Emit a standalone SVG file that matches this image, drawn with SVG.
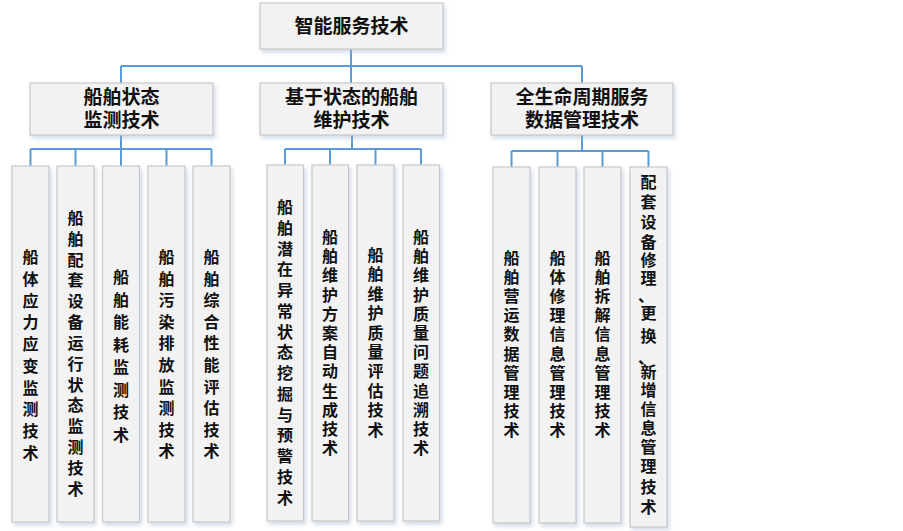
<svg xmlns="http://www.w3.org/2000/svg" width="903" height="531" viewBox="0 0 903 531">
<defs>
<filter id="sh" x="-20%" y="-20%" width="140%" height="140%">
<feDropShadow dx="2" dy="3" stdDeviation="2" flood-color="#9fb4cc" flood-opacity="0.45"/>
</filter>
<style>
.box{fill:#f2f2f2;stroke:#c8c8c8;stroke-width:1.2;filter:url(#sh)}
.hd{font-family:"Liberation Sans","Noto Sans CJK SC",sans-serif;font-size:19px;font-weight:bold;fill:#111;text-anchor:middle}
.lf{font-family:"Liberation Sans","Noto Sans CJK SC",sans-serif;font-size:16px;font-weight:bold;fill:#111;text-anchor:middle}
.cn{fill:none;stroke:#5b9bd5;stroke-width:2}
</style>
</defs>
<rect width="903" height="531" fill="#ffffff"/>
<g id="connectors" class="cn">
<path d="M351 49V66M121 66H582M121 66V83M351 66V83M582 66V83"/>
<path d="M121 135V149M30.5 149H211.5M30.5 149V166M75.5 149V166M121 149V166M166.5 149V166M211.5 149V166"/>
<path d="M352 135V149M285 149H421M285 149V165M330 149V165M375.5 149V165M421 149V165"/>
<path d="M582 135V151M511.5 151H648.5M511.5 151V167M557.5 151V167M602.5 151V167M648.5 151V167"/>
</g>
<g id="root"><rect class="box" x="260" y="3" width="183" height="46"/><text class="hd" x="351.5" y="33">智能服务技术</text></g>
<g id="n1"><rect class="box" x="30" y="83" width="183" height="52"/><text class="hd" x="121.5" y="104">船舶状态</text><text class="hd" x="121.5" y="127">监测技术</text></g>
<g id="n2"><rect class="box" x="260" y="83" width="183" height="52"/><text class="hd" x="351.5" y="104">基于状态的船舶</text><text class="hd" x="351.5" y="127">维护技术</text></g>
<g id="n3"><rect class="box" x="491" y="83" width="182" height="52"/><text class="hd" x="582" y="104">全生命周期服务</text><text class="hd" x="582" y="127">数据管理技术</text></g>

<g id="l1"><rect class="box" x="12" y="166" width="37" height="356"/><text class="lf" x="30.5" y="263"><tspan x="30.5" dy="0">船</tspan><tspan x="30.5" dy="21.75">体</tspan><tspan x="30.5" dy="21.75">应</tspan><tspan x="30.5" dy="21.75">力</tspan><tspan x="30.5" dy="21.75">应</tspan><tspan x="30.5" dy="21.75">变</tspan><tspan x="30.5" dy="21.75">监</tspan><tspan x="30.5" dy="21.75">测</tspan><tspan x="30.5" dy="21.75">技</tspan><tspan x="30.5" dy="21.75">术</tspan></text></g>
<g id="l2"><rect class="box" x="57" y="166" width="37" height="356"/><text class="lf" x="75.5" y="224"><tspan x="75.5" dy="0">船</tspan><tspan x="75.5" dy="20.83">舶</tspan><tspan x="75.5" dy="20.83">配</tspan><tspan x="75.5" dy="20.83">套</tspan><tspan x="75.5" dy="20.83">设</tspan><tspan x="75.5" dy="20.83">备</tspan><tspan x="75.5" dy="20.83">运</tspan><tspan x="75.5" dy="20.83">行</tspan><tspan x="75.5" dy="20.83">状</tspan><tspan x="75.5" dy="20.83">态</tspan><tspan x="75.5" dy="20.83">监</tspan><tspan x="75.5" dy="20.83">测</tspan><tspan x="75.5" dy="20.83">技</tspan><tspan x="75.5" dy="20.83">术</tspan></text></g>
<g id="l3"><rect class="box" x="102.5" y="166" width="37" height="356"/><text class="lf" x="121" y="283"><tspan x="121" dy="0">船</tspan><tspan x="121" dy="22.5">舶</tspan><tspan x="121" dy="22.5">能</tspan><tspan x="121" dy="22.5">耗</tspan><tspan x="121" dy="22.5">监</tspan><tspan x="121" dy="22.5">测</tspan><tspan x="121" dy="22.5">技</tspan><tspan x="121" dy="22.5">术</tspan></text></g>
<g id="l4"><rect class="box" x="148" y="166" width="37" height="356"/><text class="lf" x="166.5" y="263"><tspan x="166.5" dy="0">船</tspan><tspan x="166.5" dy="21.6">舶</tspan><tspan x="166.5" dy="21.6">污</tspan><tspan x="166.5" dy="21.6">染</tspan><tspan x="166.5" dy="21.6">排</tspan><tspan x="166.5" dy="21.6">放</tspan><tspan x="166.5" dy="21.6">监</tspan><tspan x="166.5" dy="21.6">测</tspan><tspan x="166.5" dy="21.6">技</tspan><tspan x="166.5" dy="21.6">术</tspan></text></g>
<g id="l5"><rect class="box" x="193" y="166" width="37" height="356"/><text class="lf" x="211.5" y="263"><tspan x="211.5" dy="0">船</tspan><tspan x="211.5" dy="21.6">舶</tspan><tspan x="211.5" dy="21.6">综</tspan><tspan x="211.5" dy="21.6">合</tspan><tspan x="211.5" dy="21.6">性</tspan><tspan x="211.5" dy="21.6">能</tspan><tspan x="211.5" dy="21.6">评</tspan><tspan x="211.5" dy="21.6">估</tspan><tspan x="211.5" dy="21.6">技</tspan><tspan x="211.5" dy="21.6">术</tspan></text></g>

<g id="m1"><rect class="box" x="267" y="165" width="36.5" height="356"/><text class="lf" x="285" y="213"><tspan x="285" dy="0">船</tspan><tspan x="285" dy="20.77">舶</tspan><tspan x="285" dy="20.77">潜</tspan><tspan x="285" dy="20.77">在</tspan><tspan x="285" dy="20.77">异</tspan><tspan x="285" dy="20.77">常</tspan><tspan x="285" dy="20.77">状</tspan><tspan x="285" dy="20.77">态</tspan><tspan x="285" dy="20.77">挖</tspan><tspan x="285" dy="20.77">掘</tspan><tspan x="285" dy="20.77">与</tspan><tspan x="285" dy="20.77">预</tspan><tspan x="285" dy="20.77">警</tspan><tspan x="285" dy="20.77">技</tspan><tspan x="285" dy="20.77">术</tspan></text></g>
<g id="m2"><rect class="box" x="312" y="165" width="36.5" height="356"/><text class="lf" x="330" y="243"><tspan x="330" dy="0">船</tspan><tspan x="330" dy="19.2">舶</tspan><tspan x="330" dy="19.2">维</tspan><tspan x="330" dy="19.2">护</tspan><tspan x="330" dy="19.2">方</tspan><tspan x="330" dy="19.2">案</tspan><tspan x="330" dy="19.2">自</tspan><tspan x="330" dy="19.2">动</tspan><tspan x="330" dy="19.2">生</tspan><tspan x="330" dy="19.2">成</tspan><tspan x="330" dy="19.2">技</tspan><tspan x="330" dy="19.2">术</tspan></text></g>
<g id="m3"><rect class="box" x="357" y="165" width="37" height="356"/><text class="lf" x="375.5" y="261"><tspan x="375.5" dy="0">船</tspan><tspan x="375.5" dy="19.4">舶</tspan><tspan x="375.5" dy="19.4">维</tspan><tspan x="375.5" dy="19.4">护</tspan><tspan x="375.5" dy="19.4">质</tspan><tspan x="375.5" dy="19.4">量</tspan><tspan x="375.5" dy="19.4">评</tspan><tspan x="375.5" dy="19.4">估</tspan><tspan x="375.5" dy="19.4">技</tspan><tspan x="375.5" dy="19.4">术</tspan></text></g>
<g id="m4"><rect class="box" x="403" y="165" width="36.5" height="356"/><text class="lf" x="421" y="243"><tspan x="421" dy="0">船</tspan><tspan x="421" dy="19.2">舶</tspan><tspan x="421" dy="19.2">维</tspan><tspan x="421" dy="19.2">护</tspan><tspan x="421" dy="19.2">质</tspan><tspan x="421" dy="19.2">量</tspan><tspan x="421" dy="19.2">问</tspan><tspan x="421" dy="19.2">题</tspan><tspan x="421" dy="19.2">追</tspan><tspan x="421" dy="19.2">溯</tspan><tspan x="421" dy="19.2">技</tspan><tspan x="421" dy="19.2">术</tspan></text></g>

<g id="r1"><rect class="box" x="493" y="167" width="37" height="356"/><text class="lf" x="511.5" y="264"><tspan x="511.5" dy="0">船</tspan><tspan x="511.5" dy="19.1">舶</tspan><tspan x="511.5" dy="19.1">营</tspan><tspan x="511.5" dy="19.1">运</tspan><tspan x="511.5" dy="19.1">数</tspan><tspan x="511.5" dy="19.1">据</tspan><tspan x="511.5" dy="19.1">管</tspan><tspan x="511.5" dy="19.1">理</tspan><tspan x="511.5" dy="19.1">技</tspan><tspan x="511.5" dy="19.1">术</tspan></text></g>
<g id="r2"><rect class="box" x="539" y="167" width="37" height="356"/><text class="lf" x="557.5" y="264"><tspan x="557.5" dy="0">船</tspan><tspan x="557.5" dy="19.1">体</tspan><tspan x="557.5" dy="19.1">修</tspan><tspan x="557.5" dy="19.1">理</tspan><tspan x="557.5" dy="19.1">信</tspan><tspan x="557.5" dy="19.1">息</tspan><tspan x="557.5" dy="19.1">管</tspan><tspan x="557.5" dy="19.1">理</tspan><tspan x="557.5" dy="19.1">技</tspan><tspan x="557.5" dy="19.1">术</tspan></text></g>
<g id="r3"><rect class="box" x="584" y="167" width="37" height="356"/><text class="lf" x="602.5" y="264"><tspan x="602.5" dy="0">船</tspan><tspan x="602.5" dy="19.1">舶</tspan><tspan x="602.5" dy="19.1">拆</tspan><tspan x="602.5" dy="19.1">解</tspan><tspan x="602.5" dy="19.1">信</tspan><tspan x="602.5" dy="19.1">息</tspan><tspan x="602.5" dy="19.1">管</tspan><tspan x="602.5" dy="19.1">理</tspan><tspan x="602.5" dy="19.1">技</tspan><tspan x="602.5" dy="19.1">术</tspan></text></g>
<g id="r4"><rect class="box" x="630" y="167" width="37" height="360"/><text class="lf" x="648.5" y="188"><tspan x="648.5" y="188">配</tspan><tspan x="648.5" y="208">套</tspan><tspan x="648.5" y="228">设</tspan><tspan x="648.5" y="248">备</tspan><tspan x="648.5" y="266">修</tspan><tspan x="648.5" y="284">理</tspan><tspan x="646" y="302">、</tspan><tspan x="648.5" y="319">更</tspan><tspan x="648.5" y="342">换</tspan><tspan x="646" y="364">、</tspan><tspan x="648.5" y="378">新</tspan><tspan x="648.5" y="396">增</tspan><tspan x="648.5" y="415">信</tspan><tspan x="648.5" y="434">息</tspan><tspan x="648.5" y="453">管</tspan><tspan x="648.5" y="472">理</tspan><tspan x="648.5" y="493">技</tspan><tspan x="648.5" y="513">术</tspan></text></g>
</svg>
